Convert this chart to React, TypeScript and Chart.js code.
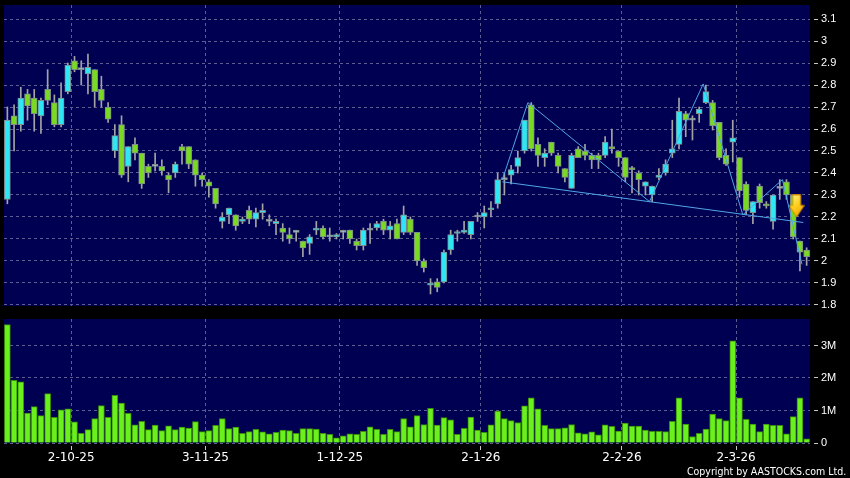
import React, { useEffect, useRef } from 'react';
import { Chart, registerables } from 'chart.js';

Chart.register(...registerables);

// ---- Data ----
const openP = [2.28,2.66,2.62,2.76,2.74,2.66,2.78,2.72,2.62,2.77, 2.91,2.87,2.85,2.87,2.78,2.70,2.50,2.62,2.43,2.53, 2.49,2.43,2.43,2.43,2.39,2.40,2.52,2.52,2.46,2.39, 2.36,2.33,2.18,2.21,2.21,2.18,2.23,2.19,2.22,2.18, 2.17,2.15,2.12,2.13,2.09,2.08,2.14,2.15,2.11,2.11, 2.13,2.14,2.09,2.07,2.14,2.15,2.18,2.14,2.17,2.13, 2.19,2.13,2.00,1.89,1.905,1.905,2.05,2.125,2.13,2.12, 2.20,2.20,2.233,2.26,2.37,2.39,2.43,2.50,2.71,2.53, 2.47,2.54,2.48,2.42,2.33,2.51,2.50,2.48,2.48,2.48, 2.52,2.50,2.47,2.42,2.40,2.34,2.30,2.38,2.40,2.49, 2.53,2.67,2.64,2.67,2.72,2.72,2.63,2.48,2.54,2.47, 2.35,2.22,2.34,2.26,2.18,2.33,2.36,2.30,2.09,2.05];
const highP = [2.70,2.71,2.79,2.78,2.78,2.74,2.87,2.755,2.81,2.90, 2.93,2.91,2.94,2.87,2.84,2.72,2.62,2.66,2.52,2.56, 2.49,2.44,2.49,2.46,2.40,2.45,2.53,2.52,2.46,2.40, 2.37,2.33,2.22,2.24,2.21,2.20,2.25,2.24,2.26,2.21, 2.19,2.17,2.15,2.14,2.09,2.12,2.18,2.16,2.15,2.125, 2.14,2.14,2.10,2.15,2.17,2.18,2.19,2.18,2.19,2.25, 2.20,2.13,2.01,1.92,1.92,2.05,2.14,2.14,2.18,2.18, 2.22,2.25,2.27,2.40,2.40,2.435,2.50,2.64,2.72,2.56, 2.51,2.54,2.49,2.42,2.49,2.52,2.53,2.49,2.49,2.565, 2.60,2.50,2.47,2.43,2.41,2.36,2.34,2.42,2.46,2.64, 2.74,2.68,2.66,2.70,2.80,2.73,2.63,2.51,2.64,2.47, 2.36,2.27,2.35,2.27,2.30,2.37,2.37,2.30,2.09,2.06];
const lowP = [2.26,2.50,2.59,2.64,2.59,2.58,2.71,2.61,2.61,2.76, 2.86,2.80,2.76,2.70,2.70,2.63,2.47,2.38,2.36,2.46, 2.33,2.38,2.41,2.39,2.31,2.38,2.44,2.42,2.34,2.34, 2.29,2.24,2.15,2.17,2.14,2.17,2.17,2.155,2.19,2.16, 2.12,2.09,2.08,2.09,2.02,2.03,2.12,2.10,2.09,2.10, 2.10,2.08,2.05,2.05,2.08,2.14,2.12,2.10,2.10,2.12, 2.12,1.98,1.95,1.85,1.86,1.90,2.03,2.09,2.125,2.10, 2.18,2.15,2.20,2.24,2.30,2.35,2.40,2.49,2.50,2.43, 2.43,2.48,2.40,2.36,2.33,2.47,2.46,2.42,2.42,2.47, 2.49,2.43,2.36,2.31,2.30,2.30,2.27,2.37,2.39,2.47, 2.51,2.565,2.55,2.63,2.715,2.595,2.46,2.435,2.45,2.29, 2.21,2.17,2.24,2.24,2.145,2.28,2.28,2.10,1.955,1.98];
const closeP = [2.64,2.62,2.74,2.705,2.67,2.73,2.73,2.62,2.74,2.89, 2.87,2.87,2.88,2.77,2.73,2.645,2.57,2.39,2.52,2.49, 2.35,2.40,2.43,2.41,2.37,2.44,2.50,2.44,2.39,2.37, 2.34,2.26,2.20,2.24,2.16,2.19,2.19,2.22,2.23,2.18, 2.18,2.13,2.10,2.13,2.06,2.11,2.15,2.11,2.11,2.12, 2.13,2.10,2.07,2.14,2.14,2.17,2.14,2.16,2.10,2.21, 2.13,2.00,1.97,1.90,1.88,2.04,2.12,2.13,2.14,2.18, 2.20,2.22,2.24,2.37,2.37,2.415,2.47,2.64,2.51,2.48, 2.49,2.49,2.43,2.38,2.48,2.47,2.48,2.46,2.46,2.54, 2.51,2.47,2.38,2.415,2.37,2.36,2.34,2.39,2.44,2.51, 2.68,2.64,2.64,2.69,2.77,2.615,2.47,2.44,2.56,2.32, 2.23,2.27,2.265,2.25,2.30,2.33,2.30,2.11,2.04,2.02];
// volume in millions of shares
const volumeM = [3.64,1.93,1.88,0.92,1.12,0.84,1.52,0.79,1.02,1.05, 0.65,0.30,0.41,0.75,1.15,0.79,1.47,1.23,0.91,0.56, 0.67,0.41,0.55,0.38,0.53,0.41,0.49,0.46,0.66,0.35, 0.38,0.54,0.75,0.44,0.49,0.30,0.35,0.42,0.34,0.28, 0.33,0.40,0.38,0.30,0.44,0.44,0.43,0.30,0.27,0.16, 0.22,0.28,0.27,0.36,0.50,0.42,0.27,0.42,0.35,0.75, 0.50,0.84,0.57,1.07,0.55,0.78,0.71,0.27,0.45,0.80, 0.40,0.33,0.56,0.98,0.75,0.69,0.63,1.14,1.39,1.05, 0.54,0.44,0.44,0.47,0.57,0.31,0.28,0.34,0.25,0.56, 0.51,0.37,0.61,0.52,0.52,0.40,0.36,0.36,0.35,0.67, 1.39,0.58,0.20,0.30,0.43,0.89,0.75,0.69,3.14,1.39, 0.73,0.58,0.35,0.58,0.54,0.54,0.28,0.81,1.39,0.13];

const dateLabels = ['2-10-25', '3-11-25', '1-12-25', '2-1-26', '2-2-26', '2-3-26'];
const dateIndex = [10, 30, 50, 71, 92, 109];
const priceTicks = [1.8, 1.9, 2.0, 2.1, 2.2, 2.3, 2.4, 2.5, 2.6, 2.7, 2.8, 2.9, 3.0, 3.1];
const volumeTicks = [0, 1, 2, 3];

// pattern lines (bar index, price)
const zigzagX = [73.7, 77.5, 95.6, 103.6, 109.5, 115.4, 118.3];
const zigzagY = [2.37, 2.72, 2.27, 2.805, 2.21, 2.37, 1.985];
const necklineX = [73.7, 118.5];
const necklineY = [2.36, 2.175];
const arrowX = [117.5];
const arrowY = [2.25];

// ---- Styles ----
const NAVY = '#000052';
const GRID = '#5e5e92';
const TICK = '#c8c8c8';
const UP = '#2ee6f4';
const DOWN = '#7ad922';
const DOJI = '#a9c2cc';
const WICK = '#a4a4a4';
const BODY_BORDER = '#7f8c8c';
const VOL_FILL = '#6af01c';
const VOL_BORDER = '#3a8a0c';
const LINE = '#4fa6e6';

const bgPlugin = {
  id: 'plotBg',
  beforeDraw(chart: any) {
    const { ctx, chartArea } = chart;
    if (!chartArea) return;
    ctx.save();
    ctx.fillStyle = NAVY;
    ctx.fillRect(chartArea.left, chartArea.top, chartArea.right - chartArea.left, chartArea.bottom - chartArea.top);
    ctx.restore();
  },
};

function makeArrow(): HTMLCanvasElement {
  const c = document.createElement('canvas');
  c.width = 16;
  c.height = 23;
  const g = c.getContext('2d')!;
  const grad = g.createLinearGradient(0, 0, 16, 23);
  grad.addColorStop(0, '#fff2a0');
  grad.addColorStop(0.45, '#ffd21f');
  grad.addColorStop(1, '#f29a00');
  g.beginPath();
  g.moveTo(4, 0.5);
  g.lineTo(12, 0.5);
  g.lineTo(12, 11);
  g.lineTo(15.5, 11);
  g.lineTo(8, 22.5);
  g.lineTo(0.5, 11);
  g.lineTo(4, 11);
  g.closePath();
  g.fillStyle = grad;
  g.fill();
  g.strokeStyle = '#d08a00';
  g.lineWidth = 1;
  g.stroke();
  return c;
}

const N = openP.length;

function xScale(showLabels: boolean): any {
  return {
    type: 'linear',
    min: -0.5,
    max: N - 0.5,
    offset: false,
    bounds: 'data',
    afterBuildTicks: (s: any) => {
      s.ticks = dateIndex.map((i) => ({ value: i - 0.5 }));
    },
    afterFit: (s: any) => {
      s.height = showLabels ? 35 : 0;
      s.paddingLeft = 0;
      s.paddingRight = 0;
    },
    grid: {
      offset: false,
      color: GRID,
      lineWidth: 1,
      drawTicks: showLabels,
      tickLength: 7,
      tickColor: TICK,
      tickWidth: 1,
      tickBorderDash: [0, 3, 4, 40],
    },
    border: { display: false, dash: [3, 3] },
    ticks: {
      display: showLabels,
      autoSkip: false,
      maxRotation: 0,
      minRotation: 0,
      padding: 1,
      color: '#ffffff',
      font: { family: 'DejaVu Sans', size: 12 },
      callback: (_v: any, i: number) => dateLabels[i] ?? '',
    },
  };
}

function yScale(min: number, max: number, ticks: number[], fmt: (v: number) => string): any {
  return {
    type: 'linear',
    position: 'right',
    min,
    max,
    afterBuildTicks: (s: any) => {
      s.ticks = ticks.map((v) => ({ value: v }));
    },
    afterFit: (s: any) => {
      s.width = 40;
      s.paddingTop = 0;
      s.paddingBottom = 0;
    },
    grid: {
      color: GRID,
      lineWidth: 1,
      drawTicks: true,
      tickLength: 8,
      tickColor: TICK,
      tickWidth: 1,
      tickBorderDash: [0, 4, 4, 40],
    },
    border: { display: false, dash: [3, 3] },
    ticks: {
      padding: 3,
      color: '#ffffff',
      font: { family: 'Liberation Sans', size: 11 },
      callback: (v: any) => fmt(Number(v)),
    },
  };
}

export default function App() {
  const priceRef = useRef<HTMLCanvasElement>(null);
  const volRef = useRef<HTMLCanvasElement>(null);

  useEffect(() => {
    const idx = Array.from({ length: N }, (_, i) => i);
    const bodyColors = idx.map((i) => (closeP[i] > openP[i] ? UP : closeP[i] < openP[i] ? DOWN : DOJI));
    const arrowImg = makeArrow();

    const price = new Chart(priceRef.current!, {
      type: 'bar',
      data: {
        datasets: [
          {
            type: 'line',
            label: 'arrow',
            data: arrowX.map((x, i) => ({ x, y: arrowY[i] })),
            showLine: false,
            pointStyle: arrowImg as any,
            pointRadius: 10,
            order: -2,
          } as any,
          {
            type: 'line',
            label: 'zigzag',
            data: zigzagX.map((x, i) => ({ x, y: zigzagY[i] })),
            borderColor: LINE,
            borderWidth: 1,
            pointRadius: 0,
            tension: 0,
            order: -1,
          } as any,
          {
            type: 'line',
            label: 'neckline',
            data: necklineX.map((x, i) => ({ x, y: necklineY[i] })),
            borderColor: LINE,
            borderWidth: 1,
            pointRadius: 0,
            tension: 0,
            order: -1,
          } as any,
          {
            type: 'bar',
            label: 'body',
            data: idx.map((i) => ({ x: i, y: [Math.min(openP[i], closeP[i]), Math.max(openP[i], closeP[i])] })),
            backgroundColor: bodyColors,
            borderColor: BODY_BORDER,
            borderWidth: 1,
            borderSkipped: false,
            barThickness: 6,
            minBarLength: 2,
            grouped: false,
            order: 1,
          } as any,
          {
            type: 'bar',
            label: 'wick',
            data: idx.map((i) => ({ x: i, y: [lowP[i], highP[i]] })),
            backgroundColor: WICK,
            borderWidth: 0,
            barThickness: 1,
            grouped: false,
            order: 2,
          } as any,
        ],
      },
      options: {
        responsive: false,
        maintainAspectRatio: false,
        animation: false,
        events: [],
        layout: { autoPadding: false, padding: { left: 4, top: 5, right: 0, bottom: 6 } },
        plugins: { legend: { display: false }, tooltip: { enabled: false } },
        scales: {
          x: xScale(false),
          y: yScale(1.79545, 3.16364, priceTicks, (v) => String(Math.round(v * 10) / 10)),
        },
      } as any,
      plugins: [bgPlugin],
    });

    const vol = new Chart(volRef.current!, {
      type: 'bar',
      data: {
        datasets: [
          {
            label: 'volume',
            data: idx.map((i) => ({ x: i, y: volumeM[i] })),
            backgroundColor: VOL_FILL,
            borderColor: VOL_BORDER,
            borderWidth: 1,
            borderSkipped: 'start',
            barThickness: 6,
            grouped: false,
          } as any,
        ],
      },
      options: {
        responsive: false,
        maintainAspectRatio: false,
        animation: false,
        events: [],
        layout: { autoPadding: false, padding: { left: 4, top: 7, right: 0, bottom: 0 } },
        plugins: { legend: { display: false }, tooltip: { enabled: false } },
        scales: {
          x: xScale(true),
          y: yScale(0, 3.815, volumeTicks, (v) => (v === 0 ? '0' : `${v}M`)),
        },
      } as any,
      plugins: [bgPlugin],
    });

    return () => {
      price.destroy();
      vol.destroy();
    };
  }, []);

  return (
    <div
      style={{
        position: 'fixed',
        left: 0,
        top: 0,
        width: 850,
        height: 478,
        background: '#000',
        overflow: 'hidden',
      }}
    >
      <canvas ref={priceRef} width={850} height={312} style={{ position: 'absolute', left: 0, top: 0, width: 850, height: 312 }} />
      <canvas ref={volRef} width={850} height={166} style={{ position: 'absolute', left: 0, top: 312, width: 850, height: 166 }} />
      <div
        style={{
          position: 'absolute',
          right: 4,
          top: 466,
          color: '#ffffff',
          fontFamily: '"DejaVu Sans", sans-serif',
          fontSize: 11,
          lineHeight: '11px',
          whiteSpace: 'nowrap',
          transform: 'scaleX(0.86)',
          transformOrigin: 'right top',
        }}
      >
        Copyright by AASTOCKS.com Ltd.
      </div>
    </div>
  );
}
